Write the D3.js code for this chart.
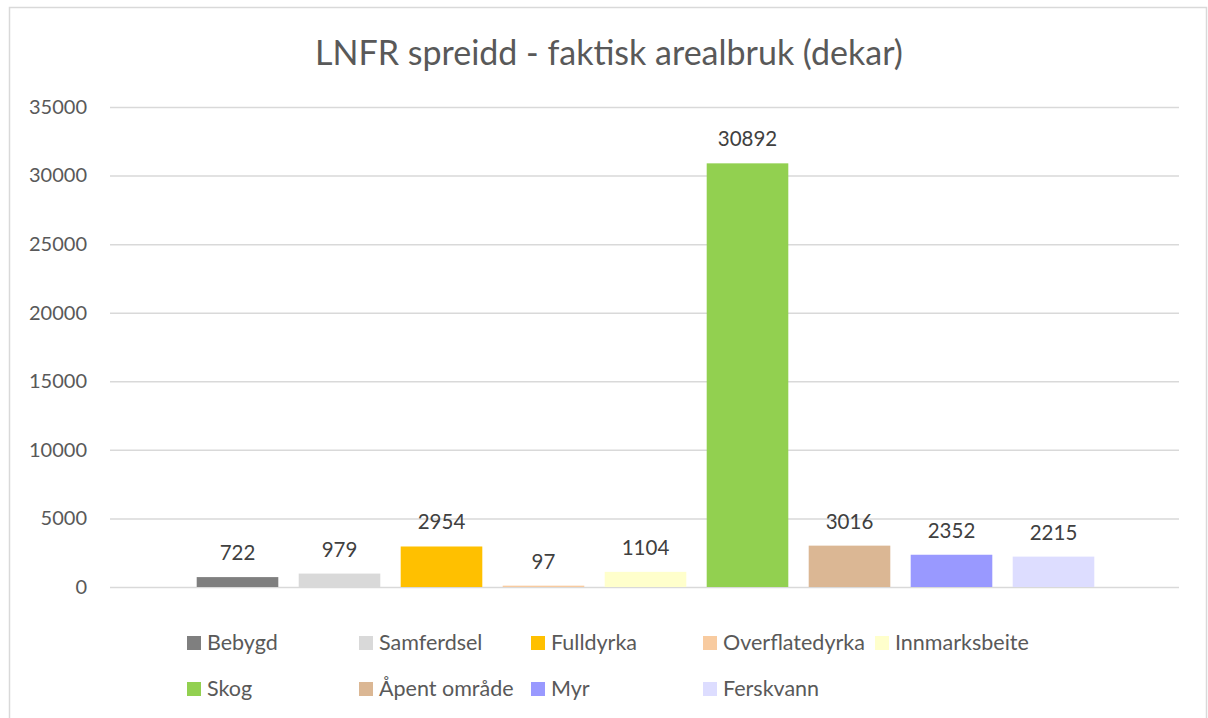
<!DOCTYPE html>
<html>
<head>
<meta charset="utf-8">
<script src="https://cdn.jsdelivr.net/npm/d3@7"></script>
<style>
  body { margin: 0; background: #fff; }
  text { font-family: Lato, "Open Sans", sans-serif; }
</style>
</head>
<body>
<div id="chart"></div>
<script>
// data
var title = "LNFR spreidd - faktisk arealbruk (dekar)";
var series = ["Bebygd", "Samferdsel", "Fulldyrka", "Overflatedyrka", "Innmarksbeite",
              "Skog", "Åpent område", "Myr", "Ferskvann"];
var values = [722, 979, 2954, 97, 1104, 30892, 3016, 2352, 2215];
var colors = ["#7f7f7f", "#d9d9d9", "#ffc000", "#f8cba0", "#ffffcc",
              "#92d050", "#dbb794", "#9999ff", "#ddddff"];
var yTicks = [0, 5000, 10000, 15000, 20000, 25000, 30000, 35000];

var width = 1208, height = 718;
var plot = {left: 110, right: 1179, top: 107, bottom: 587};

var svg = d3.select("#chart").append("svg")
    .attr("width", width)
    .attr("height", height);

// chart border
svg.append("rect")
    .attr("x", 9.5).attr("y", 7.5)
    .attr("width", 1197).attr("height", 730)
    .attr("fill", "#fff")
    .attr("stroke", "#d9d9d9")
    .attr("stroke-width", 1.5);

// title
svg.append("text")
    .attr("x", 609).attr("y", 65)
    .attr("text-anchor", "middle")
    .attr("font-size", "34px")
    .attr("fill", "#595959")
    .text(title);

var yScale = d3.scaleLinear().domain([0, 35000]).range([plot.bottom, plot.top]);

// single category, series side by side
var groupPad = 75.5;
var xScale = d3.scaleBand()
    .domain(series)
    .range([plot.left + groupPad + 1, plot.right - groupPad + 1])
    .paddingInner(0.2)
    .paddingOuter(0.1);

// gridlines + y labels
var yAxis = d3.axisLeft(yScale)
    .tickValues(yTicks)
    .tickSize(-(plot.right - plot.left))
    .tickPadding(23)
    .tickFormat(d3.format("d"));

var gy = svg.append("g")
    .attr("transform", "translate(" + plot.left + ",0)")
    .call(yAxis);
gy.select(".domain").remove();
gy.selectAll(".tick line").attr("stroke", "#d9d9d9").attr("stroke-width", 1.5);
gy.selectAll(".tick text")
    .attr("font-size", "20px")
    .attr("fill", "#595959")
    .attr("font-family", "Lato, 'Open Sans', sans-serif");

// bars
svg.append("g").selectAll("rect")
    .data(series)
    .enter().append("rect")
    .attr("x", d => xScale(d))
    .attr("y", (d, i) => yScale(values[i]))
    .attr("width", xScale.bandwidth())
    .attr("height", (d, i) => yScale(0) - yScale(values[i]))
    .attr("fill", (d, i) => colors[i]);

// data labels
svg.append("g").selectAll("text")
    .data(series)
    .enter().append("text")
    .attr("x", d => xScale(d) + xScale.bandwidth() / 2)
    .attr("y", (d, i) => yScale(values[i]) - 17)
    .attr("text-anchor", "middle")
    .attr("font-size", "20.5px")
    .attr("fill", "#404040")
    .text((d, i) => values[i]);

// legend: 5 per row
var legend = svg.append("g").selectAll("g")
    .data(series)
    .enter().append("g")
    .attr("transform", (d, i) => "translate(" + (187 + (i % 5) * 172) + "," + (636 + Math.floor(i / 5) * 46) + ")");

legend.append("rect")
    .attr("width", 14).attr("height", 14)
    .attr("fill", (d, i) => colors[i]);

legend.append("text")
    .attr("x", 20).attr("y", 14)
    .attr("font-size", "21.5px")
    .attr("fill", "#595959")
    .text(d => d);
</script>
</body>
</html>
